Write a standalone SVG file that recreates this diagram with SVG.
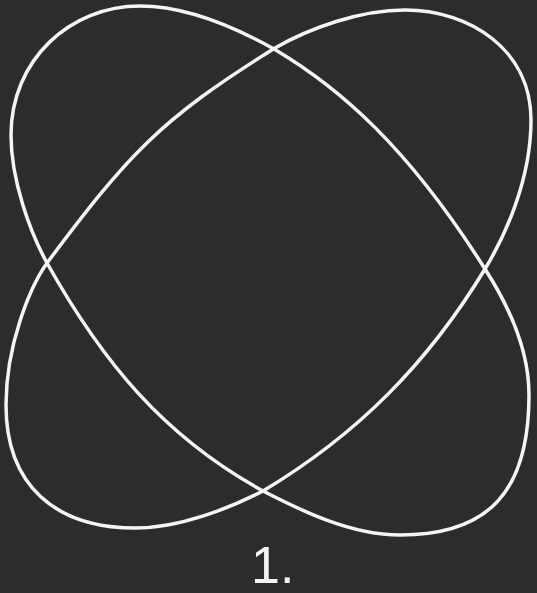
<svg xmlns="http://www.w3.org/2000/svg" width="537" height="593" viewBox="0 0 537 593">
<style>
.curve{fill:none;stroke:#f4f4f4;stroke-width:3.5;stroke-linecap:round;stroke-linejoin:round}
.label{font-family:"Liberation Sans",Arial,sans-serif;font-size:52px;fill:#f4f4f4}
</style>
<rect width="537" height="593" fill="#2c2c2c"/>
<g id="curves">
<path id="ellipse-a" class="curve" d="M47,263 C30,232 11,180 11,135 C11,60 70,6 140,6 C190,6 240,30 274,49 C340,88 408,147 485,269 C505,300 529,345 529,395 C529,490 490,535 400,535 C350,535 300,510 263,491 C163,436 102,361 47,263 Z"/>
<path id="ellipse-b" class="curve" d="M47,263 C30,287 6,345 6,405 C6,485 55,528 135,528 C180,528 230,508 263,491 C358,434 428,363 485,269 C505,236 531,180 531,120 C531,50 470,10 405,10 C360,10 310,28 275,48 C159,120 128,155 47,263 Z"/>
</g>
<text class="label" x="251" y="583">1.</text>
</svg>
